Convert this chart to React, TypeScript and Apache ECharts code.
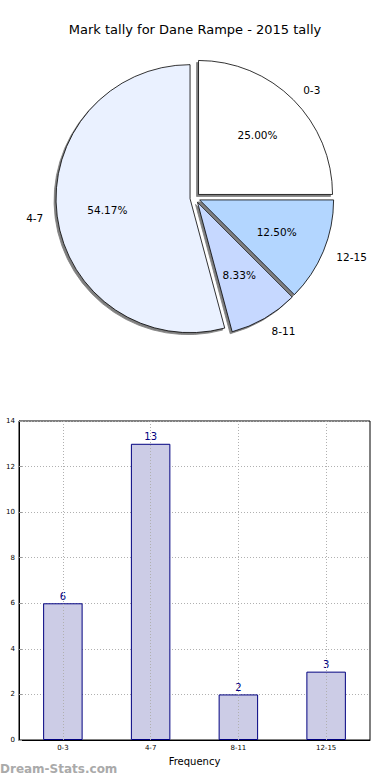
import React, { useEffect, useRef } from "react";
import * as echarts from "echarts";

const categories = ["0-3", "4-7", "8-11", "12-15"];
const counts = [6, 13, 2, 3];
const sliceColors = ["#ffffff", "#eaf1ff", "#c6d8ff", "#b3d6ff"];
const yTicks = { min: 0, max: 14, interval: 2 };
const titleText = "Mark tally for Dane Rampe - 2015 tally";
const xName = "Frequency";
const yName = "Occurrences";
const watermark = "Dream-Stats.com";

const FONT = "DejaVu Sans";

export default function App() {
  const ref = useRef<HTMLDivElement>(null);
  useEffect(() => {
    document.body.style.margin = "0";
    if (!ref.current) return;
    const chart = echarts.init(ref.current, undefined, { renderer: "svg" });
    const total = counts.reduce((a, b) => a + b, 0);
    const R = 134;
    const center = [195, 198];
    const pieData = categories.map((c, i) => ({
      name: c,
      value: counts[i],
      selected: true,
      itemStyle: { color: sliceColors[i] },
    }));
    const labelData = categories.map((c, i) => ({
      name: c,
      value: counts[i],
      selected: true,
    }));
    chart.setOption({
      animation: false,
      textStyle: { fontFamily: FONT },
      title: {
        text: titleText,
        left: "center",
        top: 18,
        textStyle: { fontFamily: FONT, fontSize: 13, fontWeight: "normal", color: "#000" },
      },
      grid: {
        left: 19,
        right: 20,
        top: 421,
        bottom: 40,
        containLabel: false,
        outerBoundsMode: "none",
        show: true,
        borderColor: "#000",
        borderWidth: 1,
        backgroundColor: "transparent",
      },
      xAxis: {
        type: "category",
        data: categories,
        name: xName,
        nameLocation: "middle",
        nameGap: 16,
        nameTextStyle: { fontFamily: FONT, fontSize: 10, color: "#000" },
        axisLine: { lineStyle: { color: "#000", width: 1 } },
        axisTick: { show: false },
        axisLabel: { fontFamily: FONT, fontSize: 7, color: "#000", margin: 4 },
        splitLine: { show: false },
      },
      yAxis: {
        type: "value",
        min: yTicks.min,
        max: yTicks.max,
        interval: yTicks.interval,
        name: yName,
        nameLocation: "middle",
        nameRotate: 90,
        nameGap: 21,
        nameTextStyle: { fontFamily: FONT, fontSize: 9, color: "#000" },
        axisLine: { show: true, lineStyle: { color: "#000", width: 1 } },
        axisTick: { show: true, inside: true, length: 3, lineStyle: { color: "#999" } },
        axisLabel: { fontFamily: FONT, fontSize: 7, color: "#000", margin: 4 },
        splitLine: { show: true, lineStyle: { color: "#b0b0b0", type: [1, 2], width: 1 } },
      },
      series: [
        {
          type: "pie",
          center,
          radius: R,
          startAngle: 0,
          clockwise: false,
          selectedMode: "multiple",
          selectedOffset: 5,
          avoidLabelOverlap: false,
          silent: true,
          data: pieData,
          itemStyle: {
            borderColor: "#000",
            borderWidth: 0.8,
            shadowColor: "rgba(0,0,0,0.5)",
            shadowBlur: 0,
            shadowOffsetX: -2,
            shadowOffsetY: 2,
          },
          label: {
            show: true,
            position: "outside",
            formatter: "{b}",
            fontFamily: FONT,
            fontSize: 10.5,
            color: "#000",
            distanceToLabelLine: 0,
          },
          labelLine: { show: false, length: 14, length2: 0 },
          emphasis: { disabled: true },
        },
        {
          type: "pie",
          center,
          radius: R * 1.2,
          startAngle: 0,
          clockwise: false,
          selectedMode: "multiple",
          selectedOffset: 5,
          silent: true,
          data: labelData,
          itemStyle: { color: "transparent", borderWidth: 0 },
          label: {
            show: true,
            position: "inside",
            formatter: (p: any) => ((p.value / total) * 100).toFixed(2) + "%",
            fontFamily: FONT,
            fontSize: 10.5,
            color: "#000",
          },
          labelLine: { show: false },
          emphasis: { disabled: true },
        },
        {
          type: "bar",
          data: counts,
          barWidth: "45%",
          itemStyle: { color: "#ccccE6", borderColor: "#000080", borderWidth: 1 },
          label: {
            show: true,
            position: "top",
            distance: 2,
            fontFamily: FONT,
            fontSize: 10,
            color: "#000080",
          },
          markLine: {
            silent: true,
            symbol: "none",
            label: { show: false },
            lineStyle: { color: "#b0b0b0", type: [1, 2], width: 1 },
            data: categories.map((c) => ({ xAxis: c })),
          },
          z: 3,
        },
      ],
      graphic: [
        {
          type: "text",
          left: 0,
          top: 763,
          style: {
            text: watermark,
            fontFamily: FONT,
            fontSize: 12,
            fontWeight: "bold",
            fill: "#aaaaaa",
          },
        },
      ],
    });
    return () => chart.dispose();
  }, []);
  return <div ref={ref} style={{ width: 390, height: 780 }} />;
}
